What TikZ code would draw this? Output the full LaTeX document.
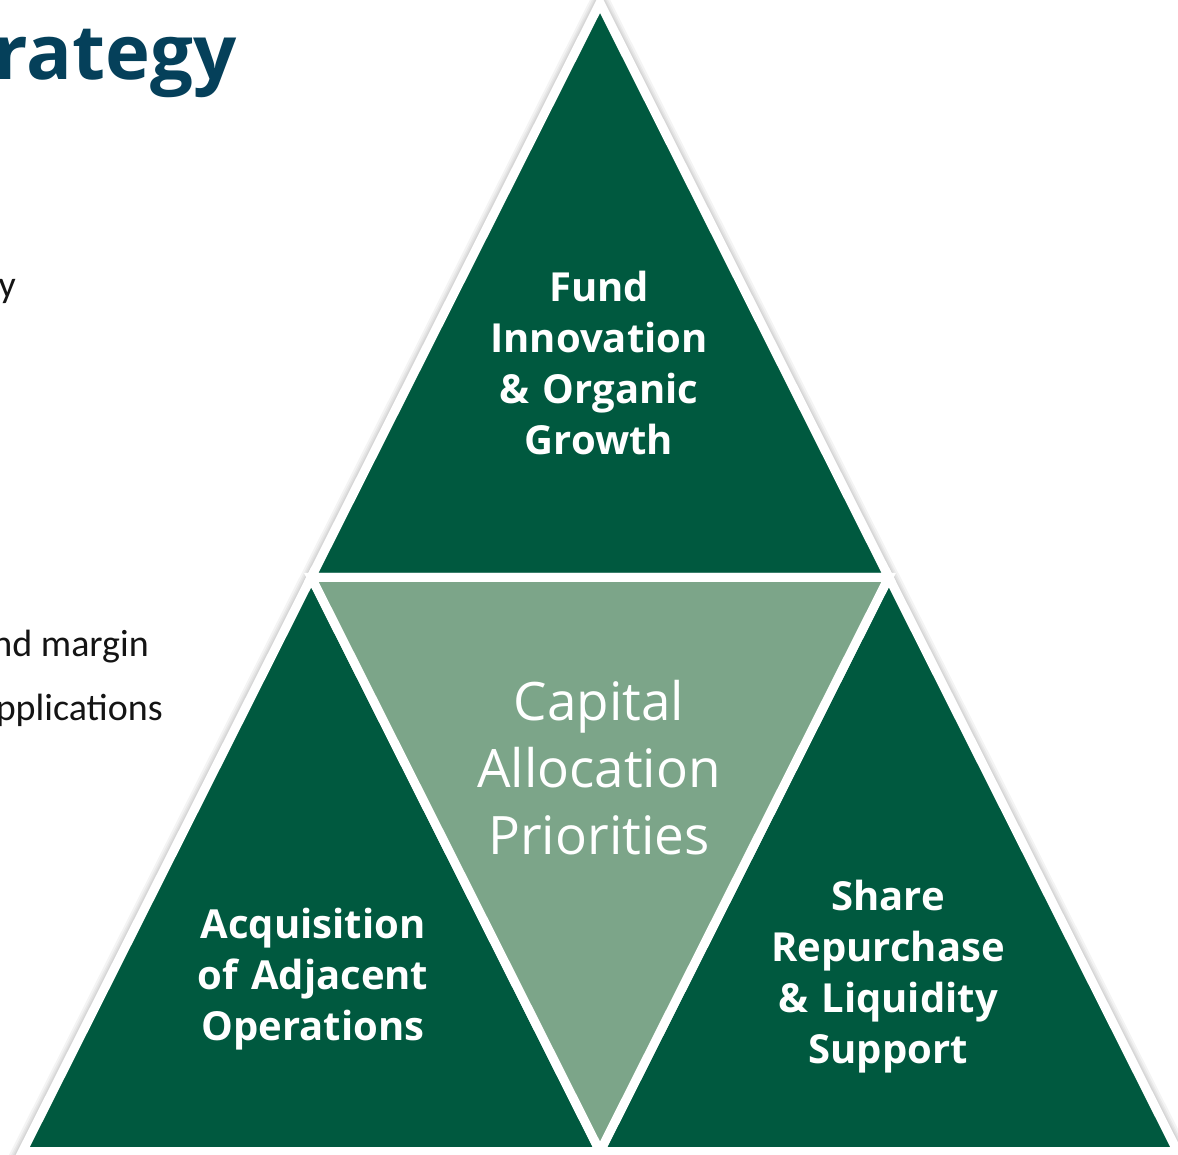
\documentclass[tikz,border=0pt]{standalone}
\usepackage{fontspec}
\setmainfont{Open Sans}
\newfontfamily\calib{Carlito}
\usetikzlibrary{calc}
\definecolor{dgreen}{RGB}{0,89,63}
\definecolor{lgreen}{RGB}{124,165,137}
\definecolor{titleblue}{RGB}{5,64,90}
\definecolor{bodytext}{RGB}{20,20,20}
\begin{document}
\begin{tikzpicture}[x=1pt,y=-1pt,
  tri/.style={fill=dgreen, draw=white, line width=9pt, line join=miter},
  ctri/.style={fill=lgreen, draw=white, line width=9pt, line join=miter},
  shadowline/.style={draw=black, line width=#1, opacity=0.045, line join=miter},
  lab/.style={text=white, font=\bfseries\fontsize{40}{51}\selectfont, align=center, text width=300pt, inner sep=0pt, anchor=base},
  clab/.style={text=white, font=\fontsize{53}{67}\selectfont, align=center, text width=300pt, inner sep=0pt, anchor=base},
  side/.style={text=bodytext, font=\calib\fontsize{38}{44}\selectfont, inner sep=0pt, anchor=base east}
]
\useasboundingbox (0,0) rectangle (1178,1155);
\clip (0,0) rectangle (1178,1155);
% outer vertices
\coordinate (A) at (600,3);
\coordinate (B) at (22.5,1151.5);
\coordinate (C) at (1177.5,1151.5);
\coordinate (AB) at ($(A)!0.5!(B)$);
\coordinate (AC) at ($(A)!0.5!(C)$);
\coordinate (BC) at ($(B)!0.5!(C)$);
% soft shadow
\begin{scope}[shift={(1.5,1.5)}]
  \foreach \w in {21,17,14,11.5}{
    \draw[shadowline=\w pt] (A) -- (B) -- (C) -- cycle;
  }
\end{scope}
% triangles
\draw[tri] (A) -- (AB) -- (AC) -- cycle;
\draw[tri] (AB) -- (B) -- (BC) -- cycle;
\draw[tri] (AC) -- (BC) -- (C) -- cycle;
\draw[ctri] (AB) -- (AC) -- (BC) -- cycle;
% labels
\node[lab] (fund) at (599,302) {Fund\\Innovation\\\& Organic\\Growth};
\node[lab] (acq) at (313,938) {Acquisition\\of Adjacent\\Operations};
\node[lab] (share) at (888,910) {Share\\Repurchase\\\& Liquidity\\Support};
\node[clab] (cap) at (599,720) {Capital\\Allocation\\Priorities};
% cut-off texts at left
\node[anchor=base east, inner sep=0pt, text=titleblue, font=\bfseries\fontsize{76}{80}\selectfont] (title) at (237,80) {rategy};
\node[side] (t1) at (16,298) {y};
\node[side] (t2) at (149,656) {nd margin};
\node[side] (t3) at (163,720) {pplications};
\end{tikzpicture}
\end{document}
